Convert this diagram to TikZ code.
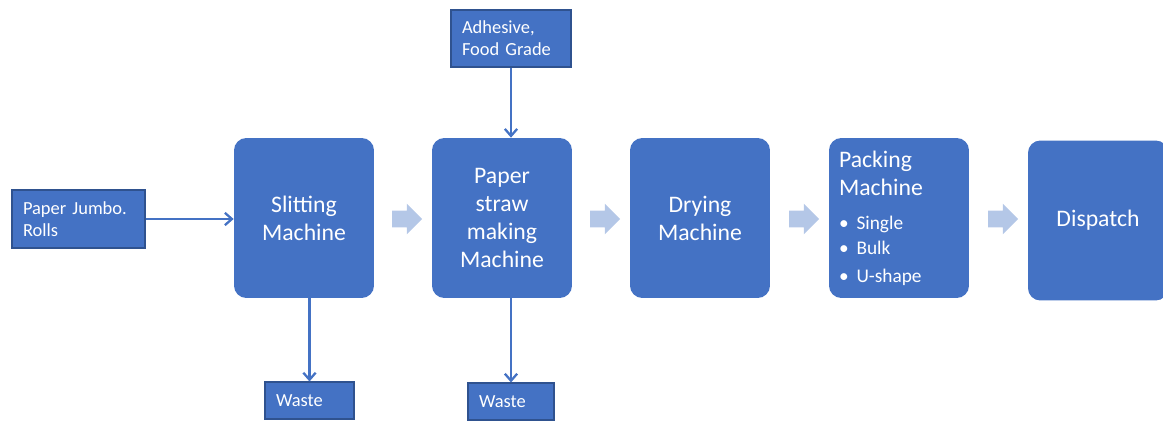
\documentclass[tikz,border=0pt]{standalone}
\usepackage{fontspec}
\setmainfont{Carlito}
\usetikzlibrary{arrows.meta,positioning,shapes.arrows}
\definecolor{boxblue}{HTML}{4472C4}
\definecolor{edgeblue}{HTML}{2F528F}
\definecolor{paleblue}{HTML}{B4C7E7}

\begin{document}
\begin{tikzpicture}[x=0.02cm, y=-0.02cm,
  machine/.style={fill=boxblue, rounded corners=7pt, minimum width=2.8cm,
    minimum height=3.2cm, text=white, align=center, inner sep=0.2cm,
    font=\fontsize{13.5}{16}\selectfont},
  supply/.style={fill=boxblue, draw=edgeblue, line width=0.6pt, text=white,
    align=left, inner xsep=0.22cm, inner ysep=0pt,
    font=\fontsize{10.5}{12.5}\selectfont},
  feed/.style={-{Straight Barb[length=4pt,width=7pt]}, draw=boxblue, line width=1.3pt},
  stage/.style={single arrow, fill=paleblue, draw=none, inner sep=0.16cm,
    single arrow head extend=0.14cm, minimum height=0.6cm}]
  % page frame
  \useasboundingbox (0,0) rectangle (1163,421);
  % machines
  \node[machine] (slit) at (304,218) {Slitting\\Machine};
  \node[machine] (straw) at (502,218) {Paper\\straw\\making\\Machine};
  \node[machine] (dry) at (700,218) {Drying\\Machine};
  \node[machine, align=left, text width=2.4cm, minimum height=3.2cm] (pack) at (899,218)
    {Packing\\Machine\\[5.2pt]\fontsize{11}{14.2}\selectfont
     \textbullet\ Single\\\textbullet\ Bulk\\\textbullet\ U-shape};
  \node[machine] (dispatch) at (1098,220.5) {Dispatch};
  % inputs and outputs
  \node[supply, text width=2.22cm, minimum height=1.16cm] (rolls) at (78.5,219) {Paper Jumbo.\\Rolls};
  \node[supply, text width=1.96cm, minimum height=1.14cm] (glue) at (511,38.5) {Adhesive,\\Food Grade};
  \node[supply, text width=1.34cm, minimum height=0.74cm] (scrapA) at (309.5,400.5) {Waste};
  \node[supply, text width=1.28cm, minimum height=0.74cm] (scrapB) at (511,401.5) {Waste};
  % flow between stages
  \node[stage] (gapA) at (403,219) {};
  \node[stage] (gapB) at (601,219) {};
  \node[stage] (gapC) at (800,219) {};
  \node[stage] (gapD) at (999,219) {};
  % feeds
  \draw[feed] (rolls.east) -- (rolls.east -| slit.west);
  \draw[feed] (glue.south) -- (glue.south |- straw.north);
  \draw[feed] (slit.south -| scrapA.north) -- (scrapA.north);
  \draw[feed] (straw.south -| scrapB.north) -- (scrapB.north);
\end{tikzpicture}
\end{document}
